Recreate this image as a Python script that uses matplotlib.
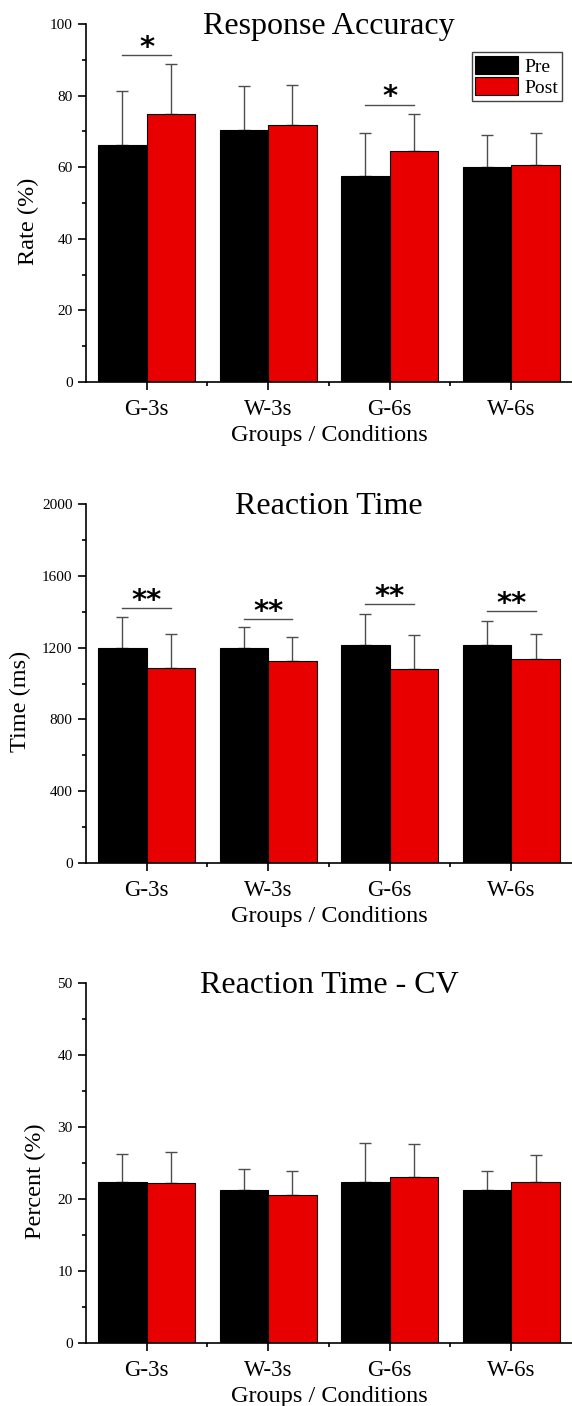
import matplotlib
matplotlib.use('Agg')
import matplotlib.pyplot as plt
import numpy as np
from matplotlib.ticker import MultipleLocator

plt.rcParams['font.family'] = ['Liberation Serif', 'DejaVu Serif']

groups = ['G-3s', 'W-3s', 'G-6s', 'W-6s']

acc_pre = [66.2, 70.3, 57.6, 60.0]
acc_post = [75.0, 71.9, 64.4, 60.7]
acc_pre_err = [15.1, 12.3, 12.1, 8.9]
acc_post_err = [13.8, 11.0, 10.6, 9.0]

rt_pre = [1199, 1196, 1213, 1216]
rt_post = [1085, 1127, 1081, 1136]
rt_pre_err = [170, 117, 174, 134]
rt_post_err = [189, 132, 189, 141]

cv_pre = [22.3, 21.3, 22.4, 21.2]
cv_post = [22.2, 20.5, 23.0, 22.3]
cv_pre_err = [4.0, 2.9, 5.4, 2.7]
cv_post_err = [4.3, 3.4, 4.7, 3.8]

# significance marks: (group index, bracket height, label)
acc_sig = [(0, 91.3, '*'), (2, 77.5, '*')]
rt_sig = [(0, 1419, '**'), (1, 1358, '**'), (2, 1441, '**'), (3, 1402, '**')]

PRE_C = 'black'
POST_C = '#e80000'
ERR_C = '#4d4d4d'

fig = plt.figure(figsize=(5.72, 14.06), dpi=100)

panels = [
    dict(pos=[0.150, 0.7283, 0.85, 0.2546], pre=acc_pre, post=acc_post,
         pe=acc_pre_err, qe=acc_post_err, ymax=100, major=20, minor=10,
         title='Response Accuracy', ylabel='Rate (%)', sig=acc_sig, legend=True),
    dict(pos=[0.150, 0.3862, 0.85, 0.2553], pre=rt_pre, post=rt_post,
         pe=rt_pre_err, qe=rt_post_err, ymax=2000, major=400, minor=200,
         title='Reaction Time', ylabel='Time (ms)', sig=rt_sig, legend=False),
    dict(pos=[0.150, 0.0448, 0.85, 0.2561], pre=cv_pre, post=cv_post,
         pe=cv_pre_err, qe=cv_post_err, ymax=50, major=10, minor=5,
         title='Reaction Time - CV', ylabel='Percent (%)', sig=[], legend=False),
]

x = np.arange(len(groups))
w = 0.4
for p in panels:
    ax = fig.add_axes(p['pos'])
    ax.bar(x - w/2, p['pre'], w, color=PRE_C, edgecolor='black', lw=0.8,
           label='Pre', zorder=2)
    ax.bar(x + w/2, p['post'], w, color=POST_C, edgecolor='black', lw=0.8,
           label='Post', zorder=2)
    # upper-only error bars, drawn beneath the bars so the lower cap hides
    for xs, vals, errs in [(x - w/2, p['pre'], p['pe']), (x + w/2, p['post'], p['qe'])]:
        ax.errorbar(xs, vals, yerr=[np.zeros(4), errs], fmt='none', ecolor=ERR_C,
                    elinewidth=1, capsize=4, capthick=1, zorder=1)
    ax.set_xlim(-0.5, 3.5)
    ax.set_ylim(0, p['ymax'])
    ax.spines['top'].set_visible(False)
    ax.spines['right'].set_visible(False)
    ax.spines['left'].set_linewidth(1.2)
    ax.spines['bottom'].set_linewidth(1.2)
    ax.yaxis.set_major_locator(MultipleLocator(p['major']))
    ax.yaxis.set_minor_locator(MultipleLocator(p['minor']))
    ax.set_xticks(x)
    ax.set_xticklabels(groups, fontsize=16.5)
    ax.set_xticks(x[:-1] + 0.5, minor=True)
    ax.tick_params(axis='both', which='major', direction='out', length=6, width=1.2)
    ax.tick_params(axis='both', which='minor', direction='out', length=3, width=1.2)
    ax.tick_params(axis='x', which='major', pad=6)
    ax.tick_params(axis='y', labelsize=11)
    ax.set_ylabel(p['ylabel'], fontsize=17.5, labelpad=8)
    ax.yaxis.label.set_y(0.45)
    ax.set_xlabel('Groups / Conditions', fontsize=17.5, labelpad=4)
    ax.annotate(p['title'], xy=(0.5, 1.0), xycoords='axes fraction',
                xytext=(0, -7.5), textcoords='offset points',
                ha='center', va='baseline', fontsize=23)
    for gi, h, lab in p['sig']:
        ax.plot([gi - w/2, gi + w/2], [h, h], color=ERR_C, lw=1)
        ax.annotate(lab, xy=(gi, h), xytext=(0, -0.5), textcoords='offset points',
                    ha='center', va='baseline', fontsize=21,
                    family='DejaVu Sans', fontweight='bold')
    if p['legend']:
        leg = ax.legend(loc='upper right', bbox_to_anchor=(0.979, 0.922), fontsize=14,
                        handlelength=2.2, handleheight=1.05, handletextpad=0.3,
                        borderpad=0.2, labelspacing=0.1, borderaxespad=0,
                        fancybox=False, edgecolor='#444444', framealpha=1)
        leg.get_frame().set_linewidth(1)

plt.savefig('out.png', dpi=100)
